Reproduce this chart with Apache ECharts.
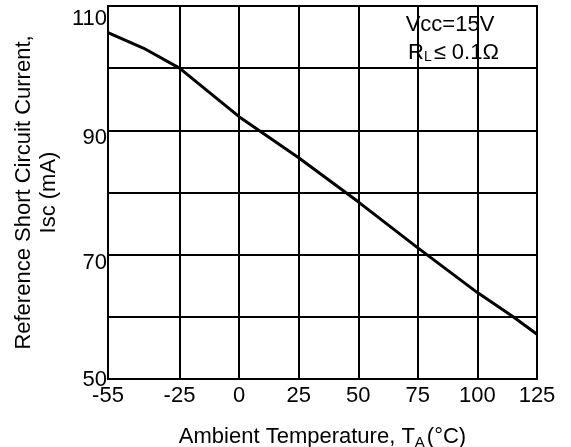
<!DOCTYPE html>
<html>
<head>
<meta charset="utf-8">
<script src="https://cdn.jsdelivr.net/npm/echarts@6/dist/echarts.min.js"></script>
<style>html,body{margin:0;padding:0;background:#fff}#c{width:571px;height:447px}</style>
</head>
<body>
<div id="c"></div>
<script>
// Data
var temps = [-55, -40, -25, 0, 25, 50, 75, 100, 115, 125];
var isc = [105.7, 103.2, 100, 92.2, 85.6, 78.5, 71.1, 63.9, 60, 57.2];
var xTicks = [-55, -25, 0, 25, 50, 75, 100, 125];
var yLabels = [50, 70, 90, 110];

var FONT = 'Liberation Sans, Arial, sans-serif';
var chart = echarts.init(document.getElementById('c'));
var pts = temps.map(function (t, i) { return [t, isc[i]]; });

chart.setOption({
  animation: false,
  grid: { left: 108, right: 34, top: 6, bottom: 68, show: true, borderColor: '#000', borderWidth: 2,
    backgroundColor: 'transparent', containLabel: false, outerBoundsMode: 'none' },
  xAxis: {
    type: 'value', min: -55, max: 125,
    axisLine: { show: true, lineStyle: { color: '#000', width: 2 } },
    axisTick: { show: false },
    splitLine: { show: false },
    axisLabel: { customValues: xTicks, color: '#000', fontFamily: FONT, fontSize: 22, margin: 6 },
    name: 'Ambient Temperature, T{sub|A}(°C)',
    nameLocation: 'middle', nameGap: 45,
    nameTextStyle: { color: '#000', fontFamily: FONT, fontSize: 22, lineHeight: 26,
      rich: { sub: { fontFamily: FONT, fontSize: 15, lineHeight: 26, verticalAlign: 'bottom', padding: [10, 2, 0, 0] } } }
  },
  yAxis: {
    type: 'value', min: 50, max: 110, interval: 10,
    axisLine: { show: true, lineStyle: { color: '#000', width: 2 } },
    axisTick: { show: false },
    splitLine: { show: true, lineStyle: { color: '#000', width: 2 } },
    axisLabel: {
      color: '#000', fontFamily: FONT, fontSize: 22, margin: 1,
      formatter: function (v) {
        if (yLabels.indexOf(v) < 0) return '';
        if (v === 110) return '{t|' + v + '}';
        if (v === 50) return '{b|' + v + '}';
        return '{n|' + v + '}';
      },
      rich: {
        t: { fontFamily: FONT, fontSize: 22, padding: [26, 0, 0, 0] },
        n: { fontFamily: FONT, fontSize: 22, padding: [16, 0, 0, 0] },
        b: { fontFamily: FONT, fontSize: 22, padding: [1, 0, 0, 0] }
      }
    },
    name: 'Reference Short Circuit Current,\nIsc (mA)',
    nameLocation: 'middle', nameGap: 41,
    nameTextStyle: { color: '#000', fontFamily: FONT, fontSize: 22, lineHeight: 25 }
  },
  series: [{
    type: 'line', data: pts, symbol: 'none', smooth: false,
    lineStyle: { color: '#000', width: 3 },
    markLine: {
      silent: true, symbol: 'none', label: { show: false },
      lineStyle: { color: '#000', width: 2, type: 'solid' },
      data: xTicks.map(function (v) { return { xAxis: v }; })
    },
    z: 3
  }],
  graphic: [{
    type: 'group', left: 396, top: 14, z: 100,
    children: [
      { type: 'rect', shape: { x: 0, y: 0, width: 136, height: 49 }, style: { fill: '#fff' } },
      { type: 'text', style: { text: 'Vcc=15V', x: 54, y: -1, align: 'center', fill: '#000', font: '22px ' + FONT } },
      { type: 'text', style: { text: 'R{s|L}≤ 0.1Ω', x: 12, y: 26, fill: '#000', font: '22px ' + FONT,
          rich: { s: { fontSize: 14, fontFamily: FONT, padding: [9, 2, 0, 0] } } } }
    ]
  }]
});
</script>
</body>
</html>
